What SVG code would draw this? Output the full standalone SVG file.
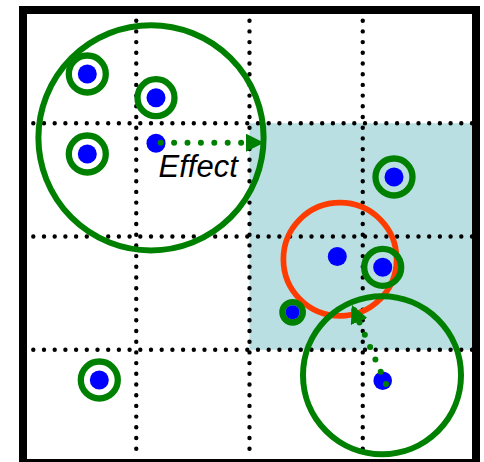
<svg xmlns="http://www.w3.org/2000/svg" width="484" height="462" viewBox="0 0 484 462">
<style>
.grid{stroke:#000;stroke-width:4.4;stroke-linecap:round;stroke-dasharray:0 10.7;fill:none}
.ring{fill:none;stroke:#008000;stroke-width:6.3}
.dot{fill:#0000ff}
.big{fill:none;stroke:#008000;stroke-width:6}
.red{fill:none;stroke:#ff3c00;stroke-width:5.7}
.eff{stroke:#008000;stroke-width:6;stroke-linecap:round;fill:none;stroke-dasharray:0 13.4}
.lbl{font-family:"Liberation Sans",Arial,sans-serif;font-style:italic;font-size:31px;fill:#000}
</style>
<defs>
<marker id="ah" markerUnits="userSpaceOnUse" markerWidth="18" markerHeight="18" refX="18" refY="9" orient="auto" viewBox="0 0 18 18">
<path d="M0,0 L18,9 L0,18 z" fill="#008000"/>
</marker>
</defs>
<rect x="0" y="0" width="484" height="462" fill="#fff"/>
<rect id="region" x="249.5" y="123.25" width="222.5" height="226.5" fill="#b9dfe2"/>
<g id="grid">
<line class="grid" x1="136.25" y1="20.7" x2="136.25" y2="459"/>
<line class="grid" x1="249.5" y1="20.7" x2="249.5" y2="459"/>
<line class="grid" x1="362.75" y1="20.7" x2="362.75" y2="459"/>
<line class="grid" x1="33.3" y1="123.25" x2="472" y2="123.25"/>
<line class="grid" x1="33.3" y1="236.5" x2="472" y2="236.5"/>
<line class="grid" x1="33.3" y1="349.75" x2="472" y2="349.75"/>
</g>
<g id="neighborhood-red"><circle class="red" cx="340" cy="259.3" r="56.6"/></g>
<g id="n1"><circle class="ring" cx="87.3" cy="74" r="18.5"/><circle class="dot" cx="87.3" cy="74" r="9.5"/></g>
<g id="n2"><circle class="ring" cx="156" cy="97.7" r="18.5"/><circle class="dot" cx="156" cy="97.7" r="9.5"/></g>
<g id="n3"><circle class="ring" cx="87.3" cy="154" r="18.5"/><circle class="dot" cx="87.3" cy="154" r="9.5"/></g>
<g id="n4"><circle class="ring" cx="394" cy="177" r="18.5"/><circle class="dot" cx="394" cy="177" r="9.5"/></g>
<g id="n5"><circle class="ring" cx="382.7" cy="267.3" r="18.5"/><circle class="dot" cx="382.7" cy="267.3" r="9.5"/></g>
<g id="n6"><circle class="ring" cx="99.3" cy="380" r="18.5"/><circle class="dot" cx="99.3" cy="380" r="9.5"/></g>
<g id="n7"><circle class="ring" cx="292.6" cy="312.3" r="10.2"/><circle class="dot" cx="292.6" cy="312.3" r="7"/></g>
<g id="n8"><circle class="dot" cx="337.3" cy="256.5" r="9.5"/></g>
<g id="neighborhood-top"><circle class="big" cx="151" cy="137.8" r="112.6"/></g>
<g id="neighborhood-bottom"><circle class="big" cx="382" cy="375.3" r="79"/></g>
<g id="src1"><circle class="dot" cx="156" cy="143.3" r="9.5"/></g>
<g id="src2"><circle class="dot" cx="382.7" cy="380.7" r="9.3"/></g>
<g id="connectors">
<line class="eff" x1="160.7" y1="142.7" x2="264" y2="142.7" marker-end="url(#ah)"/>
<line class="eff" x1="386" y1="384" x2="352" y2="305" marker-end="url(#ah)"/>
</g>
<text class="lbl" x="158.5" y="177.3">Effect</text>
<rect id="frame" x="23" y="10" width="453" height="453" fill="none" stroke="#000" stroke-width="8"/>
</svg>
